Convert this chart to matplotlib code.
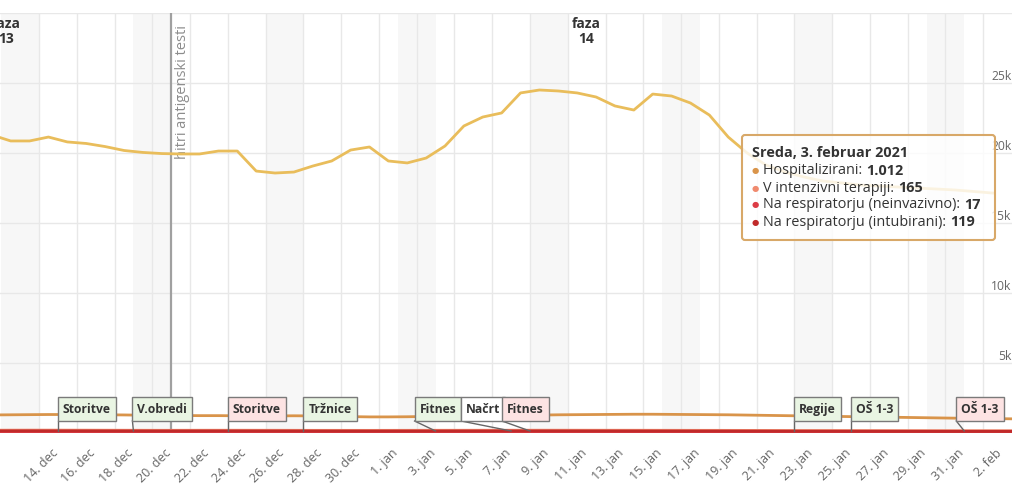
import matplotlib
matplotlib.use("Agg")
import matplotlib.pyplot as plt
import matplotlib.dates as mdates
from matplotlib.patches import FancyBboxPatch, Rectangle
from matplotlib.lines import Line2D
from matplotlib.transforms import IdentityTransform, ScaledTranslation
import pandas as pd

plt.rcParams['font.family'] = ['Open Sans', 'DejaVu Sans']

# ---------------- data ----------------
day_start = "2020-12-11"
day_end = "2021-02-03"
active_end = "2021-02-02"

active_cases = [21290, 20860, 20860, 21140, 20790, 20680, 20460, 20180, 20040, 19960,
                19930, 19930, 20140, 20140, 18710, 18570, 18640, 19070, 19430, 20210,
                20430,
                19430, 19290, 19640, 20500, 21930, 22570, 22860, 24290, 24500, 24430,
                24290, 24000, 23360, 23070, 24210, 24070, 23570, 22710, 21140, 20000,
                19140, 18640, 18290, 18000, 17860, 17710, 17640, 17570, 17500, 17430,
                17360,
                17250, 17140]

hospitalized = [1290, 1300, 1310, 1320, 1320, 1310, 1300, 1290, 1270, 1260,
                1250, 1240, 1240, 1230, 1210, 1220, 1230, 1220, 1190, 1170, 1150,
                1150, 1160, 1180, 1200, 1220, 1240, 1250, 1270, 1280, 1300,
                1310, 1320, 1330, 1340, 1340, 1330, 1320, 1310, 1300, 1280,
                1260, 1240, 1220, 1200, 1180, 1160, 1140, 1120, 1100, 1080, 1060,
                1040, 1030, 1012]

icu = [200, 205, 207, 207, 205, 203, 200, 198, 195, 193, 195, 197, 198, 198, 196,
       195, 193, 190, 190, 189, 188,
       190, 192, 194, 195, 196, 197, 198, 200, 201, 200, 199, 198, 197, 196, 195,
       193, 191, 190, 188, 186, 184, 182, 180, 178, 176, 174, 172, 171, 170, 169, 168,
       167, 166, 165]

resp_noninvasive = [30, 31, 32, 32, 31, 30, 30, 29, 28, 28, 27, 27, 26, 26, 26, 25,
                    25, 24, 24, 23, 23,
                    23, 22, 22, 22, 21, 21, 21, 21, 20, 20, 20, 20, 20, 19, 19, 19,
                    19, 19, 19, 18, 18, 18, 18, 18, 18, 18, 18, 18, 18, 17, 17,
                    17, 17, 17]

resp_intubated = [150, 152, 153, 152, 151, 150, 148, 147, 146, 145, 146, 147, 147,
                  146, 145, 144, 143, 141, 140, 140, 139,
                  140, 141, 142, 143, 144, 145, 146, 147, 147, 146, 145, 144, 143,
                  142, 141, 140, 139, 138, 136, 134, 132, 130, 129, 128, 127, 126,
                  125, 124, 123, 122, 121,
                  120, 120, 119]

event_labels = ["Storitve", "V.obredi", "Storitve", "Tržnice", "Fitnes", "Načrt",
                "Fitnes", "Regije", "OŠ 1-3", "OŠ 1-3"]
event_dates = ["2020-12-15", "2020-12-19", "2020-12-24", "2020-12-28", "2021-01-04",
               "2021-01-08", "2021-01-09", "2021-01-23", "2021-01-26", "2021-02-01"]
event_kinds = ["open", "open", "close", "open", "open", "plan", "close", "open",
               "open", "close"]

phase_labels = ["faza\n13", "faza\n14"]
phase_dates = ["2020-12-12 06:00", "2021-01-12 00:00"]

marker_label = "hitri antigenski testi"
marker_date = "2020-12-21"

weekend_starts = ["2020-12-12", "2020-12-19", "2020-12-26", "2021-01-02",
                  "2021-01-09", "2021-01-16", "2021-01-23", "2021-01-30"]

tick_start, tick_end = "2020-12-14", "2021-02-02"
month_names = {12: "dec", 1: "jan", 2: "feb"}

y_ticks = [0, 5000, 10000, 15000, 20000, 25000, 30000]
y_labels = ["", "5k", "10k", "15k", "20k", "25k", ""]

tooltip_title = "Sreda, 3. februar 2021"
tooltip_names = ["Hospitalizirani", "V intenzivni terapiji",
                 "Na respiratorju (neinvazivno)", "Na respiratorju (intubirani)"]
tooltip_values = ["1.012", "165", "17", "119"]

# ---------------- styles ----------------
C_ACTIVE = "#e9bd5b"
C_HOSP = "#d9944a"
C_ICU = "#f08a6e"
C_NONINV = "#dc3c46"
C_INTUB = "#c02a2a"
kind_colors = {"open": "#e9f5e3", "close": "#fde3e3", "plan": "#ffffff"}
GRID = "#e8e8e8"
TXT = "#333333"
LBL = "#666666"

W, H = 1024, 500
fig = plt.figure(figsize=(W / 100, H / 100), dpi=100)
ax_left, ax_right, ax_top, ax_bottom = 0, 1011.5, 13, 433
ax = fig.add_axes([ax_left / W, (H - ax_bottom) / H, (ax_right - ax_left) / W,
                   (ax_bottom - ax_top) / H])
for s in ax.spines.values():
    s.set_visible(False)

days = pd.date_range(day_start, day_end, freq="D")
act_days = pd.date_range(day_start, active_end, freq="D")
half = pd.Timedelta(hours=12)
x_days = mdates.date2num(days + half)
x_act = mdates.date2num(act_days + half)

ax.set_xlim(mdates.date2num(pd.Timestamp("2020-12-11 22:25")),
            mdates.date2num(pd.Timestamp("2021-02-03 12:00")))
ax.set_ylim(0, 30000)

# weekend bands
for ws in weekend_starts:
    a = mdates.date2num(pd.Timestamp(ws))
    ax.axvspan(a, a + 2, color="#f7f7f7", zorder=0, lw=0)

# x ticks / grid
ticks = pd.date_range(tick_start, tick_end, freq="2D")
ax.set_xticks(mdates.date2num(ticks))
ax.set_xticklabels([f"{d.day}. {month_names[d.month]}" for d in ticks],
                   rotation=45, ha="right", va="top", rotation_mode="anchor",
                   fontsize=9, color=LBL)
ax.tick_params(axis="x", length=0, pad=10)
shift = ScaledTranslation(12 / 100, 0, fig.dpi_scale_trans)
for lab in ax.get_xticklabels():
    lab.set_transform(lab.get_transform() + shift)

ax.set_yticks(y_ticks)
ax.set_yticklabels([])
ax.tick_params(axis="y", length=0)
ax.grid(True, color=GRID, lw=1, zorder=0.5)
ax.set_axisbelow(True)
for v, l in zip(y_ticks, y_labels):
    if l:
        ax.annotate(l, xy=(1, v), xycoords=("axes fraction", "data"),
                    xytext=(0, 0), textcoords="offset pixels",
                    ha="right", va="bottom", fontsize=8.7, color=LBL)

# marker line
mx = mdates.date2num(pd.Timestamp(marker_date))
ax.axvline(mx, color="#a0a0a0", lw=1.6, zorder=2)
ax.annotate(marker_label, xy=(mx, 1), xycoords=("data", "axes fraction"),
            xytext=(11.5, -12), textcoords="offset pixels", rotation=90,
            ha="center", va="top", fontsize=10.5, color="#8c8c8c")

# phase labels
for lab, d in zip(phase_labels, phase_dates):
    ax.annotate(lab, xy=(mdates.date2num(pd.Timestamp(d)), 1),
                xycoords=("data", "axes fraction"), xytext=(0, -4),
                textcoords="offset pixels", ha="center", va="top",
                fontsize=10, fontweight="bold", color=TXT, linespacing=1.1,
                annotation_clip=False)

# series
ax.plot(x_act, active_cases, color=C_ACTIVE, lw=2.0, zorder=3)
ax.plot(x_days, hospitalized, color=C_HOSP, lw=2.0, zorder=3)
ax.plot(x_days, icu, color=C_ICU, lw=2.0, zorder=3)
ax.plot(x_days, resp_noninvasive, color=C_NONINV, lw=2.0, zorder=3)
ax.plot(x_days, resp_intubated, color=C_INTUB, lw=2.0, zorder=3)

# ---------------- pixel-space overlays ----------------
fig.canvas.draw()
renderer = fig.canvas.get_renderer()
ID = IdentityTransform()


def P(x, y):
    return x, H - y


box_offsets = [0, -1, 0, 0, -21, -50, -28, 0, 0, -8]
box_top, box_bot, point_y = 397, 421, 431
for lab, d, kind, off in zip(event_labels, event_dates, event_kinds, box_offsets):
    px_x = ax.transData.transform((mdates.date2num(pd.Timestamp(d)), 0))[0]
    bl = px_x + off
    t = fig.text(*P(bl + 5, (box_top + box_bot) / 2 + 0.5), lab, transform=ID,
                 ha="left", va="center", fontsize=8.7, fontweight="bold",
                 color=TXT, zorder=6)
    w = t.get_window_extent(renderer).width
    rect = Rectangle(P(bl, box_bot), w + 10, box_bot - box_top, transform=ID,
                     facecolor=kind_colors[kind], edgecolor="#7a7a7a", lw=1.0,
                     zorder=5)
    fig.add_artist(rect)
    ln = Line2D([bl, px_x], [H - box_bot, H - point_y], transform=ID,
                color="#666666", lw=1.0, zorder=4)
    fig.add_artist(ln)

# tooltip
tx0, ty0, tx1, ty1 = 742, 135, 995, 240
tip = FancyBboxPatch(P(tx0, ty1), tx1 - tx0, ty1 - ty0,
                     boxstyle="round,pad=0,rounding_size=3", transform=ID,
                     facecolor=(1, 1, 1, 0.82), edgecolor="#d8a868", lw=1.5,
                     zorder=7)
fig.add_artist(tip)
fig.text(*P(752, 153), tooltip_title, transform=ID, ha="left", va="center",
         fontsize=10.4, fontweight="bold", color=TXT, zorder=8)
dot_colors = [C_HOSP, C_ICU, C_NONINV, C_INTUB]
for i, (n, v, c) in enumerate(zip(tooltip_names, tooltip_values, dot_colors)):
    yy = 171 + i * 17.0
    fig.text(*P(755.5, yy), "\u25cf", transform=ID, ha="center", va="center",
             fontsize=6, color=c, zorder=8, family="DejaVu Sans")
    t1 = fig.text(*P(763, yy), n + ": ", transform=ID, ha="left", va="center",
                  fontsize=10.4, color=TXT, zorder=8)
    wn = t1.get_window_extent(renderer).width
    fig.text(*P(763 + wn, yy), v, transform=ID, ha="left", va="center",
             fontsize=10.4, fontweight="bold", color=TXT, zorder=8)

fig.savefig("out.png", dpi=100)
